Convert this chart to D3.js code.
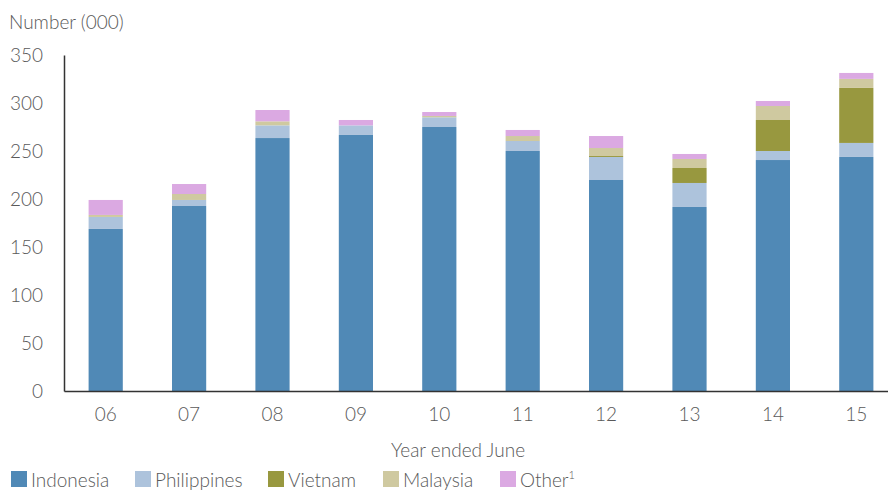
<!DOCTYPE html>
<html>
<head>
<meta charset="utf-8">
<script src="https://cdn.jsdelivr.net/npm/d3@7"></script>
<style>
  html, body { margin: 0; padding: 0; background: #fff; }
  svg { display: block; font-family: Lato, "Open Sans", sans-serif; }
  text { fill: #595959; font-weight: 300; }
</style>
</head>
<body>
<svg class="vis" width="888" height="490"></svg>
<script>
// years (x categories)
const years = ["06", "07", "08", "09", "10", "11", "12", "13", "14", "15"];

// series values, thousands
const indonesia   = [168.8, 192.7, 263.5, 266.7, 275.0, 250.0, 219.8, 191.7, 240.6, 243.8];
const philippines = [12.5, 6.3, 13.2, 10.0, 10.1, 10.4, 24.0, 25.0, 9.4, 14.6];
const vietnam     = [0, 0, 0, 0, 0, 0, 1.0, 15.6, 32.3, 57.3];
const malaysia    = [2.1, 6.2, 4.2, 0, 1.4, 5.2, 8.3, 9.4, 14.6, 9.4];
const other       = [15.6, 10.4, 11.8, 5.6, 4.1, 6.3, 12.5, 5.2, 5.2, 6.2];

const seriesNames = ["Indonesia", "Philippines", "Vietnam", "Malaysia", "Other"];
const seriesColors = ["#5089b6", "#adc3dc", "#98983f", "#cfc9a0", "#dba9e2"];

const yTicks = [0, 50, 100, 150, 200, 250, 300, 350];

const vis = {

    dims: { left: 64, right: 898, top: 55, bottom: 391 },

    init: function() {

        const svg = d3.select("svg.vis");

        // one row per year for the stack
        const rows = years.map((y, i) => ({
            year: y,
            Indonesia: indonesia[i],
            Philippines: philippines[i],
            Vietnam: vietnam[i],
            Malaysia: malaysia[i],
            Other: other[i]
        }));

        const x = d3.scaleBand()
            .domain(years)
            .range([vis.dims.left, vis.dims.right])
            .padding(0);

        const y = d3.scaleLinear()
            .domain([0, 350])
            .range([vis.dims.bottom, vis.dims.top]);

        const barW = x.bandwidth() * 0.41;

        const color = d3.scaleOrdinal().domain(seriesNames).range(seriesColors);

        const stacked = d3.stack().keys(seriesNames)(rows);

        // bars
        svg.append("g")
          .selectAll("g")
          .data(stacked)
          .join("g")
            .attr("fill", s => color(s.key))
          .selectAll("rect")
          .data(s => s)
          .join("rect")
            .attr("x", d => x(d.data.year) + (x.bandwidth() - barW) / 2)
            .attr("y", d => y(d[1]))
            .attr("width", barW)
            .attr("height", d => Math.max(0, y(d[0]) - y(d[1])));

        // y axis
        const yAxis = svg.append("g")
            .attr("transform", `translate(${vis.dims.left},0)`)
            .call(d3.axisLeft(y).tickValues(yTicks).tickSize(0).tickPadding(21));
        yAxis.select(".domain").attr("stroke", "#333").attr("stroke-width", 1.5);
        yAxis.selectAll("text")
            .attr("font-size", 19)
            .attr("font-family", "Lato, sans-serif")
            .attr("fill", "#595959");

        // x axis
        const xAxis = svg.append("g")
            .attr("transform", `translate(0,${vis.dims.bottom})`)
            .call(d3.axisBottom(x).tickSize(0).tickPadding(17));
        xAxis.select(".domain").attr("stroke", "#333").attr("stroke-width", 1.5);
        xAxis.selectAll("text")
            .attr("font-size", 19)
            .attr("font-family", "Lato, sans-serif")
            .attr("fill", "#595959");

        // titles
        svg.append("text")
            .attr("x", 9)
            .attr("y", 29)
            .attr("font-size", 19)
            .text("Number (000)");

        svg.append("text")
            .attr("x", 458)
            .attr("y", 457)
            .attr("text-anchor", "middle")
            .attr("font-size", 19)
            .text("Year ended June");

        // legend
        const legX = [11, 135, 268, 383, 500];
        const leg = svg.append("g")
          .selectAll("g")
          .data(seriesNames)
          .join("g")
            .attr("transform", (d, i) => `translate(${legX[i]},471)`);

        leg.append("rect")
            .attr("width", 16)
            .attr("height", 16)
            .attr("fill", d => color(d));

        const lt = leg.append("text")
            .attr("x", 20)
            .attr("y", 16)
            .attr("font-size", 19);
        lt.append("tspan").text(d => d);
        lt.filter(d => d === "Other")
          .append("tspan")
            .attr("font-size", 11)
            .attr("dy", -8)
            .text("1");
    }
};

vis.init();
</script>
</body>
</html>
